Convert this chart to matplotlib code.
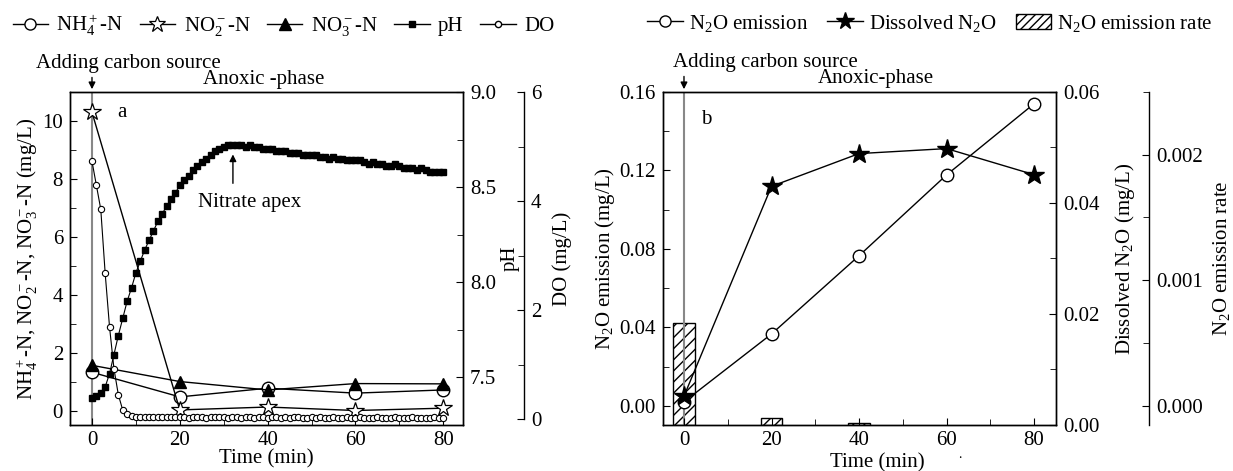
import matplotlib
matplotlib.use('Agg')
import matplotlib.pyplot as plt
import matplotlib.transforms as mtransforms
from matplotlib.lines import Line2D
from matplotlib.patches import Patch
from matplotlib.ticker import MultipleLocator, FormatStrFormatter
import numpy as np

plt.rcParams['font.family'] = 'serif'
plt.rcParams['font.serif'] = ['Liberation Serif', 'DejaVu Serif']
plt.rcParams['mathtext.fontset'] = 'custom'
plt.rcParams['mathtext.rm'] = 'Liberation Serif'
plt.rcParams['mathtext.it'] = 'Liberation Serif:italic'
plt.rcParams['mathtext.bf'] = 'Liberation Serif:bold'
plt.rcParams['font.size'] = 15
plt.rcParams['axes.linewidth'] = 1.0
plt.rcParams['xtick.direction'] = 'in'
plt.rcParams['ytick.direction'] = 'in'
plt.rcParams['xtick.major.size'] = 5
plt.rcParams['ytick.major.size'] = 5
plt.rcParams['xtick.minor.size'] = 4
plt.rcParams['ytick.minor.size'] = 4
plt.rcParams['xtick.major.pad'] = 4
plt.rcParams['ytick.major.pad'] = 5

# ---- panel a data ----
t_pts = [0, 20, 40, 60, 80]
nh4 = [1.32, 0.47, 0.77, 0.60, 0.71]
no2 = [10.3, 0.02, 0.12, 0.0, 0.08]
no3 = [1.56, 1.00, 0.71, 0.93, 0.92]

t_min = np.arange(0, 81)
ph = [7.39, 7.40, 7.42, 7.45, 7.52, 7.62, 7.72, 7.81, 7.90, 7.97,
      8.05, 8.11, 8.17, 8.22, 8.27, 8.32, 8.36, 8.40, 8.44, 8.47,
      8.51, 8.54, 8.56, 8.59, 8.61, 8.63, 8.65, 8.67, 8.69, 8.70,
      8.71, 8.72, 8.72, 8.72, 8.72, 8.71, 8.72, 8.71, 8.71, 8.70,
      8.70, 8.70, 8.69, 8.69, 8.69, 8.68, 8.68, 8.68, 8.67, 8.67,
      8.67, 8.67, 8.66, 8.66, 8.65, 8.66, 8.65, 8.65, 8.64, 8.64,
      8.64, 8.64, 8.63, 8.62, 8.63, 8.62, 8.62, 8.61, 8.61, 8.62,
      8.61, 8.60, 8.60, 8.60, 8.59, 8.60, 8.59, 8.58, 8.58, 8.58,
      8.58]
do = [4.73, 4.29, 3.85, 2.68, 1.69, 0.93, 0.45, 0.17, 0.09, 0.06,
      0.05, 0.04, 0.05, 0.04, 0.04, 0.04, 0.05, 0.04, 0.04, 0.04,
      0.04, 0.04, 0.03, 0.04, 0.04, 0.04, 0.03, 0.04, 0.04, 0.04,
      0.04, 0.03, 0.04, 0.04, 0.03, 0.04, 0.04, 0.03, 0.04, 0.04,
      0.03, 0.04, 0.04, 0.03, 0.04, 0.03, 0.04, 0.04, 0.03, 0.03,
      0.04, 0.03, 0.04, 0.03, 0.03, 0.04, 0.03, 0.03, 0.04, 0.03,
      0.03, 0.04, 0.03, 0.03, 0.03, 0.04, 0.03, 0.03, 0.03, 0.04,
      0.03, 0.03, 0.03, 0.04, 0.03, 0.03, 0.03, 0.03, 0.04, 0.03,
      0.03]

# ---- panel b data ----
t_b = [0, 20, 40, 60, 80]
n2o_emis = [0.002, 0.0366, 0.0765, 0.1177, 0.154]
n2o_diss = [0.0052, 0.0430, 0.0489, 0.0498, 0.0451]
rate_t = [0, 20, 40]
rate = [0.00066, -0.00010, -0.00014]

fig = plt.figure(figsize=(12.33, 4.71), dpi=100)

# ================= panel a =================
ax = fig.add_axes([0.0568, 0.0977, 0.3187, 0.707])
ax_ph = ax.twinx()
ax_do = ax.twinx()
ax_do.spines['right'].set_position(('axes', 1.155))
ax_do.spines['right'].set_bounds(0, 6)
for s in ['top', 'bottom', 'left']:
    ax_do.spines[s].set_visible(False)

ax.axvline(0, color='#888888', lw=1.5, zorder=0)
ax.plot(t_pts, nh4, '-o', color='k', mfc='white', ms=9, lw=1, zorder=3)
ax.plot(t_pts, no3, '-^', color='k', mfc='k', ms=9, lw=1, zorder=3)
ax.plot(t_pts, no2, '-*', color='k', mfc='white', ms=13, mew=0.9, lw=1, zorder=4)
ax_ph.plot(t_min, ph, '-s', color='k', ms=5, lw=0.8)
ax_do.plot(t_min, do, '-o', color='k', mfc='white', ms=4.5, mew=0.8, lw=0.8)

ax.set_xlim(-5, 84.5)
ax.set_ylim(-0.5, 11)
ax_ph.set_ylim(7.25, 9.0)
ax_do.set_ylim(-0.104, 6.0)

ax.xaxis.set_major_locator(MultipleLocator(20))
ax.xaxis.set_minor_locator(MultipleLocator(10))
ax.yaxis.set_major_locator(MultipleLocator(2))
ax.yaxis.set_minor_locator(MultipleLocator(1))
ax.tick_params(which='both', top=False, right=False)
ax_ph.yaxis.set_major_locator(MultipleLocator(0.5))
ax_ph.yaxis.set_minor_locator(MultipleLocator(0.25))
ax_ph.yaxis.set_major_formatter(FormatStrFormatter('%.1f'))
ax_do.yaxis.set_major_locator(MultipleLocator(2))
ax_do.yaxis.set_minor_locator(MultipleLocator(1))

ax.set_xlabel('Time (min)', labelpad=0)
ax.set_ylabel(r'$\mathrm{NH_4^+}$-N, $\mathrm{NO_2^-}$-N, $\mathrm{NO_3^-}$-N (mg/L)', labelpad=2)
ax_ph.set_ylabel('pH', labelpad=3)
ax_do.set_ylabel('DO (mg/L)', labelpad=8)

ax.text(5.7, 10.3, 'a', va='center', ha='left')
ax.annotate('', xy=(32.1, 8.94), xytext=(32.1, 7.75),
            arrowprops=dict(arrowstyle='-|>', color='k', lw=1, mutation_scale=10))
ax.text(35.9, 7.2, 'Nitrate apex', ha='center', va='center')

tr = mtransforms.blended_transform_factory(ax.transData, ax.transAxes)
ax.annotate('', xy=(0, 1.0), xycoords=tr, xytext=(0, 1.052), textcoords=tr,
            arrowprops=dict(arrowstyle='-|>', color='k', lw=1, mutation_scale=10))
ax.text(8.4, 1.087, 'Adding carbon source', transform=tr, ha='center', va='center')
ax.text(39, 1.036, 'Anoxic -phase', transform=tr, ha='center', va='center')

h_a = [Line2D([], [], color='k', marker='o', mfc='white', ms=8, lw=1),
       Line2D([], [], color='k', marker='*', mfc='white', ms=12, mew=0.9, lw=1),
       Line2D([], [], color='k', marker='^', mfc='k', ms=8, lw=1),
       Line2D([], [], color='k', marker='s', ms=4.5, lw=1),
       Line2D([], [], color='k', marker='o', mfc='white', ms=4.5, lw=1)]
l_a = [r'$\mathrm{NH_4^+}$-N', r'$\mathrm{NO_2^-}$-N', r'$\mathrm{NO_3^-}$-N', 'pH', 'DO']
fig.legend(h_a, l_a, loc='upper left', bbox_to_anchor=(0.0, 1.0), ncol=5, frameon=False,
           handlelength=1.7, handletextpad=0.4, columnspacing=0.8, borderaxespad=0.2)

# ================= panel b =================
bx = fig.add_axes([0.5377, 0.0977, 0.3187, 0.707])
bx2 = bx.twinx()
bx3 = bx.twinx()
bx3.spines['right'].set_position(('axes', 1.237))
for s in ['top', 'bottom', 'left']:
    bx3.spines[s].set_visible(False)
bx3.set_zorder(0)
bx.set_zorder(2)
bx2.set_zorder(3)
bx.patch.set_visible(False)
bx2.patch.set_visible(False)

bx.set_xlim(-4.8, 85)
bx.set_ylim(-0.0098, 0.16)
bx2.set_ylim(0, 0.06)
bx3.set_ylim(-0.000154, 0.0025)

lo = bx3.get_ylim()[0]
bx3.bar(rate_t, np.array(rate) - lo, bottom=lo, width=5, color='white',
        edgecolor='k', hatch='///', lw=1)
bx.axvline(0, color='#888888', lw=1.5, zorder=0)
bx.plot(t_b, n2o_emis, '-o', color='k', mfc='white', ms=9, lw=1)
bx2.plot(t_b, n2o_diss, '-*', color='k', mfc='k', ms=15, lw=1)

bx.xaxis.set_major_locator(MultipleLocator(20))
bx.xaxis.set_minor_locator(MultipleLocator(10))
bx.yaxis.set_major_locator(MultipleLocator(0.04))
bx.yaxis.set_minor_locator(MultipleLocator(0.02))
bx.yaxis.set_major_formatter(FormatStrFormatter('%.2f'))
bx.tick_params(which='both', top=False, right=False)
bx2.yaxis.set_major_locator(MultipleLocator(0.02))
bx2.yaxis.set_minor_locator(MultipleLocator(0.01))
bx2.yaxis.set_major_formatter(FormatStrFormatter('%.2f'))
bx3.yaxis.set_major_locator(MultipleLocator(0.001))
bx3.yaxis.set_minor_locator(MultipleLocator(0.0005))
bx3.yaxis.set_major_formatter(FormatStrFormatter('%.3f'))

bx.set_xlabel('Time (min)', labelpad=0)
bx.xaxis.set_label_coords(0.545, -0.085)
bx.set_ylabel(r'$\mathrm{N_2O}$ emission (mg/L)', labelpad=2)
bx2.set_ylabel(r'Dissolved $\mathrm{N_2O}$ (mg/L)', labelpad=10)
bx3.set_ylabel(r'$\mathrm{N_2O}$ emission rate', labelpad=6)

bx.text(4.0, 0.146, 'b', va='center', ha='left')
trb = mtransforms.blended_transform_factory(bx.transData, bx.transAxes)
bx.annotate('', xy=(0, 1.0), xycoords=trb, xytext=(0, 1.055), textcoords=trb,
            arrowprops=dict(arrowstyle='-|>', color='k', lw=1, mutation_scale=10))
bx.text(18.5, 1.09, 'Adding carbon source', transform=trb, ha='center', va='center')
bx.text(43.8, 1.042, 'Anoxic-phase', transform=trb, ha='center', va='center')
fig.text(960 / 1233, 1 - 454 / 471, '.', ha='center', va='center', fontsize=10)

h_b = [Line2D([], [], color='k', marker='o', mfc='white', ms=8, lw=1),
       Line2D([], [], color='k', marker='*', mfc='k', ms=13, lw=1),
       Patch(facecolor='white', edgecolor='k', hatch='////')]
l_b = [r'$\mathrm{N_2O}$ emission', r'Dissolved $\mathrm{N_2O}$', r'$\mathrm{N_2O}$ emission rate']
fig.legend(h_b, l_b, loc='upper left', bbox_to_anchor=(0.515, 1.0), ncol=3, frameon=False,
           handlelength=1.7, handletextpad=0.3, columnspacing=0.9, borderaxespad=0.2)

fig.savefig('out.png', dpi=100)
